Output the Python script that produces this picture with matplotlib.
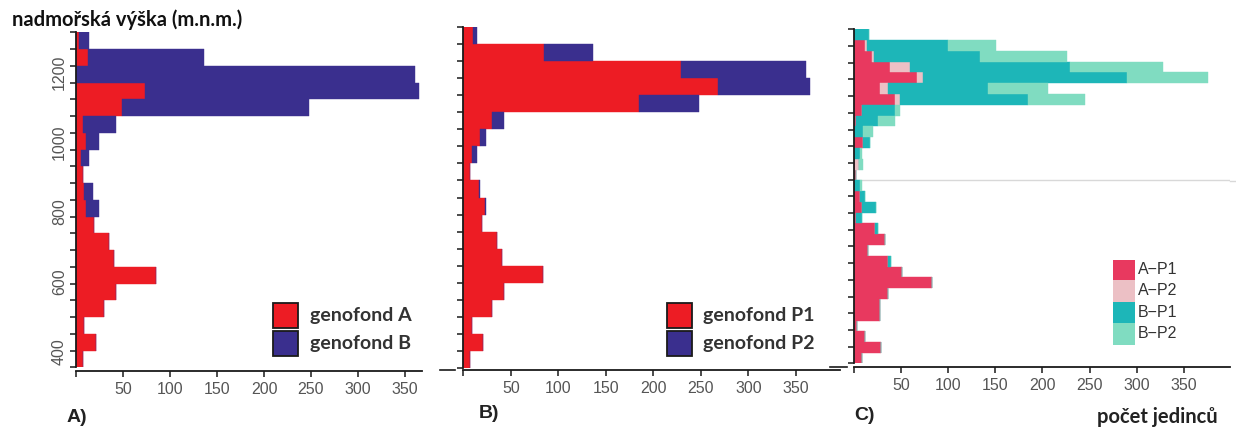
import matplotlib
matplotlib.use("Agg")
import matplotlib.pyplot as plt
from matplotlib.patches import Rectangle
from matplotlib.lines import Line2D

W, H = 1236, 432

# ---------------- data (bins listed from top = highest altitude to bottom) ----
ab_bin_bottom = [1267, 1219, 1171, 1123, 1075, 1027, 979, 931, 883, 835,
                 787, 739, 691, 643, 595, 547, 499, 451, 403, 355]
ab_bin_width = 48

genofond_A = [3, 13, 0, 73, 49, 7, 10.5, 5, 7, 8, 11, 19.5, 35.5, 40.5, 85, 42.5, 30, 9, 21, 7]
genofond_B = [11, 123, 361, 292, 199, 35.5, 13.5, 9, 0, 10, 13, 0, 0, 0, 0, 0, 0, 0, 0, 0]

genofond_P1 = [10, 85, 229, 268, 185, 30.5, 17.5, 9.5, 7, 16, 23, 19.5, 35, 40.5, 84, 43, 30, 9, 21, 7]
genofond_P2 = [4, 51, 132, 97, 63, 12, 6.5, 4.5, 0, 2, 1, 0, 0, 0, 0, 0, 0, 0, 0, 0]

c_bin_bottom = [1284, 1253, 1222, 1191, 1160, 1129, 1098, 1067, 1036, 1005,
                974, 943, 912, 881, 850, 819, 788, 757, 726, 695,
                664, 633, 602, 571, 540, 509, 478, 447, 416, 385, 354]
c_bin_width = 31

A_P1 = [0, 12, 19.5, 38, 66.5, 27.6, 43.5, 8, 2, 0, 10, 0, 1, 2, 0, 6, 8, 2, 22, 33,
        14.5, 36, 50.5, 82.5, 36.5, 27.5, 27.5, 3, 11.5, 28.5, 8.5]
A_P2 = [0, 1.5, 1.5, 21.5, 7, 9, 5.5, 0, 0, 0, 0, 0, 4, 0, 0, 0, 0, 0, 0, 0,
        0, 0, 0, 0, 0, 0, 0, 0, 0, 0, 0]
B_P1 = [16, 86.5, 113, 169.5, 216, 106, 136, 35.5, 24, 10, 7, 6, 0, 0, 6, 6, 15, 6, 3, 0,
        0, 3, 0, 0, 0, 0, 0, 0, 0, 0, 0]
B_P2 = [0, 51, 92, 99, 86.5, 63.5, 60, 5.5, 17.5, 10.5, 0, 3, 5, 0, 2, 0, 0, 0, 0, 0,
        0, 0, 0, 0, 0, 0, 0, 0, 0, 0, 0]

y_labels = [400, 600, 800, 1000, 1200]
x_ticks = [0, 50, 100, 150, 200, 250, 300, 350]
gap_altitude = 881

RED = "#ed1c24"
BLUE = "#3a2f8e"
C_COLORS = {"A\u2212P1": "#e8395f", "A\u2212P2": "#ecc0c5",
            "B\u2212P1": "#1db6b8", "B\u2212P2": "#80dcc1"}

TICKFONT = "Liberation Sans"
LABFONT = "Lato"

fig = plt.figure(figsize=(W / 100, H / 100), dpi=100)
fig.patch.set_facecolor("white")


def px_axes(l, t, r, b):
    return fig.add_axes([l / W, 1 - b / H, (r - l) / W, (b - t) / H])


def style_axes(ax, xmax, outward):
    ax.set_xlim(0, xmax)
    ax.set_ylim(355, 1315)
    ax.patch.set_alpha(0)
    for s in ("top", "right"):
        ax.spines[s].set_visible(False)
    for s in ("left", "bottom"):
        ax.spines[s].set_linewidth(1.3)
        ax.spines[s].set_color("#1a1a1a")
    ax.spines["bottom"].set_position(("outward", outward))
    ax.set_xticks(x_ticks)
    ax.set_xticklabels([""] + [str(v) for v in x_ticks[1:]], fontfamily=TICKFONT)
    ax.tick_params(axis="x", length=4, width=1.1, color="#1a1a1a",
                   labelcolor="#555555", labelsize=11.5, pad=4)
    edges = ab_bin_bottom + [ab_bin_bottom[0] + ab_bin_width]
    ax.set_yticks(edges)
    ax.set_yticklabels([])
    ax.tick_params(axis="y", which="major", length=4, width=1.1, color="#1a1a1a")


def stacked(ax, bottoms, width, series, colors):
    left = [0] * len(bottoms)
    for vals, col in zip(series, colors):
        ax.barh(bottoms, vals, height=width, left=left, align="edge",
                color=col, edgecolor=col, linewidth=0.3)
        left = [a + b for a, b in zip(left, vals)]


# ---------------- Panel A ----------------
axA = px_axes(76, 32.3, 422, 367.3)
style_axes(axA, (422 - 76) / 0.94, 2.7)
stacked(axA, ab_bin_bottom, ab_bin_width, [genofond_A, genofond_B], [RED, BLUE])
axA.set_yticks(y_labels, minor=True)
axA.set_yticklabels([str(v) for v in y_labels], minor=True, rotation=90,
                    va="center", fontfamily=TICKFONT, fontsize=11.5, color="#555555")
axA.tick_params(axis="y", which="minor", length=0, pad=6.5)

# ---------------- Panel B ----------------
axB = px_axes(463.3, 26.7, 840, 368.3)
style_axes(axB, (840 - 463.3) / 0.95, 1.0)
stacked(axB, ab_bin_bottom, ab_bin_width, [genofond_P1, genofond_P2], [RED, BLUE])

# ---------------- Panel C ----------------
axC = px_axes(854, 29.3, 1230, 363.3)
style_axes(axC, (1230 - 854) / 0.942, 2.5)
stacked(axC, c_bin_bottom, c_bin_width, [A_P1, A_P2, B_P1, B_P2],
        list(C_COLORS.values()))
axC.axhline(gap_altitude, color="#d8d8d8", lw=1.0, zorder=0)


# ---------------- legends / texts (figure pixel coordinates) ----------------
def frect(x0, y0, x1, y1, fc, ec=None, lw=0):
    fig.add_artist(Rectangle((x0 / W, 1 - y1 / H), (x1 - x0) / W, (y1 - y0) / H,
                             transform=fig.transFigure, facecolor=fc,
                             edgecolor=ec if ec else fc, linewidth=lw))


def ftext(x, y, s, **kw):
    fig.text(x / W, 1 - y / H, s, **kw)


for (sx, tx, names) in [(273, 310, ["genofond A", "genofond B"]),
                        (667, 703, ["genofond P1", "genofond P2"])]:
    frect(sx, 303, sx + 25, 328, RED, "#1a1a1a", 1.3)
    frect(sx, 330.5, sx + 25, 356, BLUE, "#1a1a1a", 1.3)
    ftext(tx, 315.5, names[0], fontfamily=LABFONT, fontweight="bold",
          fontsize=14, color="#333333", va="center")
    ftext(tx, 343, names[1], fontfamily=LABFONT, fontweight="bold",
          fontsize=14, color="#333333", va="center")

rows = [(260, 280), (280, 301.7), (301.7, 323), (323, 345)]
for (name, col), (y0, y1) in zip(C_COLORS.items(), rows):
    frect(1113, y0, 1135, y1, col)
    ftext(1138, (y0 + y1) / 2, name, fontfamily=TICKFONT, fontsize=11.5,
          color="#333333", va="center")

ftext(12, 20, "nadmořská výška (m.n.m.)", fontfamily=LABFONT, fontweight="bold",
      fontsize=14.5, color="#111111", va="center")
ftext(1097, 417, "počet jedinců", fontfamily=LABFONT, fontweight="bold",
      fontsize=14.5, color="#222222", va="center")
ftext(67, 418, "A)", fontfamily=TICKFONT, fontweight="bold", fontsize=14,
      color="#222222", va="center")
ftext(479, 413, "B)", fontfamily=TICKFONT, fontweight="bold", fontsize=14,
      color="#222222", va="center")
ftext(854, 416, "C)", fontfamily=TICKFONT, fontweight="bold", fontsize=14,
      color="#222222", va="center")

# small stray axis marks left of panels B and C
for (x0, x1, y) in [(440, 455, 369.5), (830, 847, 366.7)]:
    fig.add_artist(Line2D([x0 / W, x1 / W], [1 - y / H, 1 - y / H],
                          transform=fig.transFigure, color="#1a1a1a", lw=1.2))
# light separator line extends to the right edge
fig.add_artist(Line2D([1230 / W, 1236 / W],
                      [1 - 180.7 / H, 1 - 180.7 / H], transform=fig.transFigure,
                      color="#d8d8d8", lw=1.0))

fig.savefig("out.png", dpi=100, facecolor="white")
